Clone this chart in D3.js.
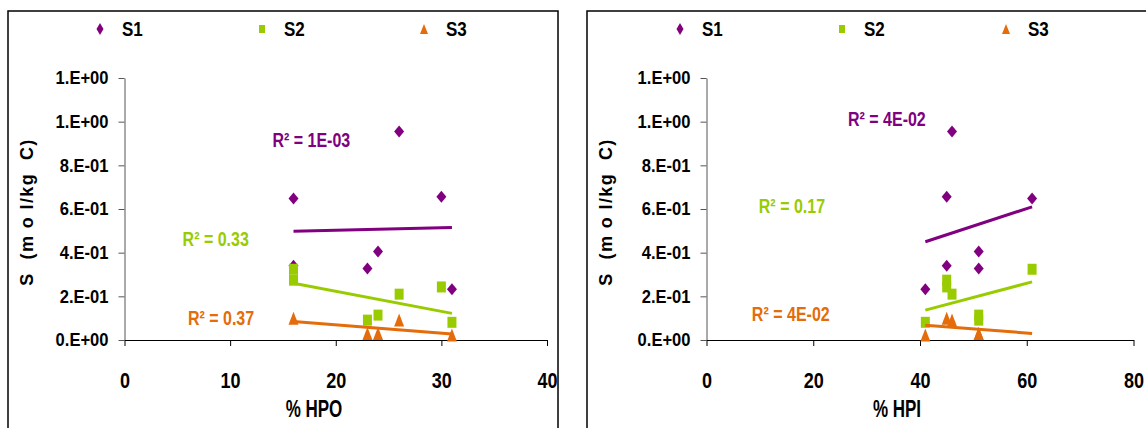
<!DOCTYPE html>
<html><head><meta charset="utf-8">
<script src="https://cdn.jsdelivr.net/npm/d3@7"></script>
<style>
html,body{margin:0;padding:0;background:#fff;}
svg{display:block;}
text{font-family:"Liberation Sans",Arial,sans-serif;font-weight:bold;}
</style></head>
<body>
<svg id="chart" width="1146" height="428"></svg>
<script>
// ---- data ----
const seriesNames = ["S1","S2","S3"];
const hpo = [16,16,23,24,26,30,31];
const hpi = [61,45,51,51,46,45,41];
const s1 = [0.648,0.34,0.328,0.405,0.955,0.656,0.232];
const s2 = [0.324,0.274,0.091,0.114,0.21,0.243,0.081];
const s3 = [null,0.1,0.03,0.03,0.092,null,0.023];
const yTicks = [0,0.2,0.4,0.6,0.8,1.0,1.2];
const yTickLabels = ["0.E+00","2.E-01","4.E-01","6.E-01","8.E-01","1.E+00","1.E+00"];
const xTicksHPO = [0,10,20,30,40];
const xTicksHPI = [0,20,40,60,80];
// trendline endpoints [x0,y0,x1,y1] per series
const trendHPO = [[16,0.498,31,0.515],[16,0.26,31,0.122],[16,0.085,31,0.027]];
const trendHPI = [[41,0.450,61,0.610],[41,0.137,61,0.266],[41,0.068,61,0.030]];
const r2HPO = ["R² = 1E-03","R² = 0.33","R² = 0.37"];
const r2HPI = ["R² = 4E-02","R² = 0.17","R² = 4E-02"];

const colors = ["#800080","#99CC00","#E46C0A"];
const svg = d3.select("#chart");

function ntext(parent, x, y, str, size, fill, anchor, sx){
  const g = parent.append("g").attr("transform",`translate(${x},${y}) scale(${sx},1)`);
  g.append("text").attr("text-anchor",anchor||"start").attr("font-size",size)
   .attr("fill",fill||"#000").style("white-space","pre").text(str);
  return g;
}
function markerPath(type,w,h){
  const a=w/2,b=h/2;
  if(type===0) return `M0,${-b}L${a},0L0,${b}L${-a},0Z`;
  if(type===1) return `M${-a},${-b}H${a}V${b}H${-a}Z`;
  return `M0,${-b}L${a},${b}L${-a},${b}Z`;
}
const mSize = [[10,12],[9,11],[10,13]];
const lSize = [[7,12],[6,8],[8,10]];

function panel(cfg){
  const x = d3.scaleLinear().domain(cfg.xDomain).range(cfg.xRange);
  const y = d3.scaleLinear().domain([0,1.2]).range([340,78]);
  const g = svg.append("g");
  // frame
  g.append("rect").attr("x",cfg.frame[0]).attr("y",11).attr("width",cfg.frame[1]-cfg.frame[0]).attr("height",440)
    .attr("fill","none").attr("stroke","#000").attr("stroke-width",1.5);
  // y axis
  const YS = 0.92;
  const ya = g.append("g").attr("transform",`translate(${x(0)},0)`)
    .call(d3.axisLeft(y).tickValues(yTicks).tickSize(6).tickSizeOuter(0).tickFormat((d,i)=>yTickLabels[i]));
  ya.select(".domain").attr("stroke","#555");
  ya.selectAll(".tick line").attr("stroke","#555");
  ya.selectAll(".tick text").attr("font-size",18).attr("fill","#000")
    .attr("x",-(6+10)/YS).attr("transform",`scale(${YS},1)`).attr("font-family",null);
  // x axis
  const XS = 0.82;
  const xa = g.append("g").attr("transform",`translate(0,${y(0)})`)
    .call(d3.axisBottom(x).tickValues(cfg.xTicks).tickSize(6).tickSizeOuter(0));
  xa.select(".domain").attr("stroke","#000");
  xa.selectAll(".tick line").attr("stroke","#000");
  xa.selectAll(".tick text").attr("font-size",22).attr("fill","#000").attr("y",48).attr("dy",0)
    .attr("font-family",null).attr("transform",`scale(${XS},1)`);
  // axis titles
  ntext(g, cfg.xTitlePos, 417, cfg.xTitle, 23, "#000", "middle", 0.74);
  g.append("text").attr("transform",`translate(${cfg.frame[0]+25},212) rotate(-90)`)
    .attr("text-anchor","middle").attr("font-size",18).style("letter-spacing","1.4px").style("white-space","pre")
    .text("S  (m o l/kg  C)");
  // legend
  cfg.legend.forEach((lx,i)=>{
    const s=lSize[i];
    g.append("path").attr("d",markerPath(i,s[0],s[1])).attr("transform",`translate(${lx},29)`).attr("fill",colors[i]);
    ntext(g, lx+22, 36, seriesNames[i], 20, "#000", "start", 0.85);
  });
  // markers
  const series=[s1,s2,s3];
  series.forEach((vals,i)=>{
    const pts = vals.map((v,j)=>({x:cfg.xs[j],y:v})).filter(d=>d.y!==null);
    g.append("g").selectAll("path").data(pts).join("path")
      .attr("d",markerPath(i,mSize[i][0],mSize[i][1]))
      .attr("transform",d=>`translate(${x(d.x)},${y(d.y)})`)
      .attr("fill",colors[i]);
  });
  // trendlines
  cfg.trend.forEach((t,i)=>{
    g.append("line").attr("x1",x(t[0])).attr("y1",y(t[1])).attr("x2",x(t[2])).attr("y2",y(t[3]))
      .attr("stroke",colors[i]).attr("stroke-width",3);
  });
  // R2 labels
  cfg.r2pos.forEach((p,i)=>{
    ntext(g, x(p[0]), y(p[1]), cfg.r2[i], 20, colors[i], "start", 0.8);
  });
}

panel({xDomain:[0,40], xRange:[124.5,547], xTicks:xTicksHPO, frame:[8,558], xs:hpo,
  xTitle:"% HPO", xTitlePos:314, legend:[100,262,424], trend:trendHPO, r2:r2HPO,
  r2pos:[[14.0,0.885],[5.5,0.43],[6.0,0.068]]});
panel({xDomain:[0,80], xRange:[706.5,1133.5], xTicks:xTicksHPI, frame:[587,1160], xs:hpi,
  xTitle:"% HPI", xTitlePos:897, legend:[680,842,1006], trend:trendHPI, r2:r2HPI,
  r2pos:[[26.5,0.98],[9.8,0.58],[8.5,0.087]]});
</script>
</body></html>
